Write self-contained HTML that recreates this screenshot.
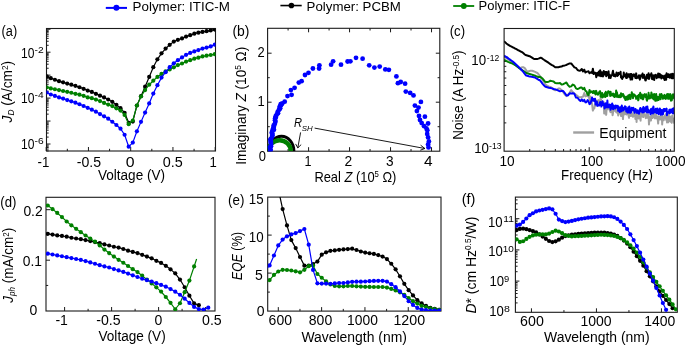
<!DOCTYPE html><html><head><meta charset="utf-8"><style>html,body{margin:0;padding:0;background:#fff;overflow:hidden}svg{display:block;will-change:transform}text{font-family:"Liberation Sans",sans-serif}</style></head><body>
<svg width="685" height="346" viewBox="0 0 685 346">
<rect width="685" height="346" fill="#fff"/>
<defs>
<clipPath id="ca"><rect x="46.5" y="28.5" width="169" height="122.5"/></clipPath>
<clipPath id="cb"><rect x="267.6" y="28.3" width="172.2" height="122.9"/></clipPath>
<clipPath id="cc"><rect x="504.1" y="28.5" width="170.2" height="122.7"/></clipPath>
<clipPath id="cd"><rect x="46" y="197.3" width="169" height="113.7"/></clipPath>
<clipPath id="ce"><rect x="267.7" y="197.1" width="173.3" height="114"/></clipPath>
<clipPath id="cf"><rect x="515.4" y="197.1" width="161.9" height="115.2"/></clipPath>
</defs>
<path d="M105.8,7.9H127" stroke="#0000ff" stroke-width="2"/>
<circle cx="116.4" cy="7.8" r="3.0" fill="#0000ff"/>
<text x="132.6" y="10.6" font-size="13.5" textLength="97.3" lengthAdjust="spacingAndGlyphs" fill="#000">Polymer: ITIC-M</text>
<path d="M280.4,5.55H301.7" stroke="#000000" stroke-width="1.6"/>
<circle cx="291.4" cy="5.45" r="2.8" fill="#000000"/>
<text x="306.6" y="11.1" font-size="13.5" textLength="94.3" lengthAdjust="spacingAndGlyphs" fill="#000">Polymer: PCBM</text>
<path d="M453.2,6H474.2" stroke="#008000" stroke-width="1.8"/>
<circle cx="463.8" cy="6" r="2.9" fill="#008000"/>
<text x="478.5" y="9.6" font-size="13.5" textLength="91.6" lengthAdjust="spacingAndGlyphs" fill="#000">Polymer: ITIC-F</text>
<path d="M46.2,151L46.2,147M88.45,151L88.45,147M130.7,151L130.7,147M172.95,151L172.95,147M215.2,151L215.2,147M67.32,151L67.32,148.8M109.57,151L109.57,148.8M151.82,151L151.82,148.8M194.07,151L194.07,148.8" stroke="#1a1a1a" stroke-width="1.0" fill="none"/>
<path d="M46.5,144L50.5,144M46.5,121.05L50.5,121.05M46.5,98.1L50.5,98.1M46.5,75.15L50.5,75.15M46.5,52.2L50.5,52.2M46.5,29.25L50.5,29.25M46.5,150.91L48.7,150.91M46.5,149.09L48.7,149.09M46.5,147.55L48.7,147.55M46.5,146.22L48.7,146.22M46.5,145.05L48.7,145.05M46.5,137.09L48.7,137.09M46.5,133.05L48.7,133.05M46.5,130.18L48.7,130.18M46.5,127.96L48.7,127.96M46.5,126.14L48.7,126.14M46.5,124.6L48.7,124.6M46.5,123.27L48.7,123.27M46.5,122.1L48.7,122.1M46.5,114.14L48.7,114.14M46.5,110.1L48.7,110.1M46.5,107.23L48.7,107.23M46.5,105.01L48.7,105.01M46.5,103.19L48.7,103.19M46.5,101.65L48.7,101.65M46.5,100.32L48.7,100.32M46.5,99.15L48.7,99.15M46.5,91.19L48.7,91.19M46.5,87.15L48.7,87.15M46.5,84.28L48.7,84.28M46.5,82.06L48.7,82.06M46.5,80.24L48.7,80.24M46.5,78.7L48.7,78.7M46.5,77.37L48.7,77.37M46.5,76.2L48.7,76.2M46.5,68.24L48.7,68.24M46.5,64.2L48.7,64.2M46.5,61.33L48.7,61.33M46.5,59.11L48.7,59.11M46.5,57.29L48.7,57.29M46.5,55.75L48.7,55.75M46.5,54.42L48.7,54.42M46.5,53.25L48.7,53.25M46.5,45.29L48.7,45.29M46.5,41.25L48.7,41.25M46.5,38.38L48.7,38.38M46.5,36.16L48.7,36.16M46.5,34.34L48.7,34.34M46.5,32.8L48.7,32.8M46.5,31.47L48.7,31.47M46.5,30.3L48.7,30.3" stroke="#1a1a1a" stroke-width="1.0" fill="none"/>
<rect x="46.5" y="28.5" width="169" height="122.5" fill="none" stroke="#1a1a1a" stroke-width="1.1"/>
<path d="M46.7,76.4 L50.8,78.14 L54.9,79.76 L59,81.19 L63.1,82.33 L67.2,83.54 L71.3,84.72 L75.4,85.81 L79.5,87.25 L83.6,88.78 L87.7,90.56 L91.8,91.89 L95.9,93.83 L100,95.64 L104.1,97.45 L108.2,99.5 L112.3,101.84 L116.4,104.85 L120.5,108.2 L124.6,112.75 L128.7,122.8 L132.8,121.6 L136.9,105.5 L141,96.2 L145.1,86.66 L149.2,76.9 L153.3,67.2 L157.4,59.3 L161.5,53.3 L165.6,48.6 L169.7,44.8 L173.8,41.6 L177.9,39.79 L182,38.46 L186.1,36.59 L190.2,35.2 L194.3,33.65 L198.4,32.66 L202.5,31.89 L206.6,31.21 L210.7,30.44 L214.8,29.53" fill="none" stroke="#000000" stroke-width="1.2" stroke-linejoin="round" clip-path="url(#ca)"/>
<g fill="#000000" clip-path="url(#ca)"><circle cx="46.7" cy="76.4" r="2.1"/><circle cx="50.8" cy="78.14" r="2.1"/><circle cx="54.9" cy="79.76" r="2.1"/><circle cx="59" cy="81.19" r="2.1"/><circle cx="63.1" cy="82.33" r="2.1"/><circle cx="67.2" cy="83.54" r="2.1"/><circle cx="71.3" cy="84.72" r="2.1"/><circle cx="75.4" cy="85.81" r="2.1"/><circle cx="79.5" cy="87.25" r="2.1"/><circle cx="83.6" cy="88.78" r="2.1"/><circle cx="87.7" cy="90.56" r="2.1"/><circle cx="91.8" cy="91.89" r="2.1"/><circle cx="95.9" cy="93.83" r="2.1"/><circle cx="100" cy="95.64" r="2.1"/><circle cx="104.1" cy="97.45" r="2.1"/><circle cx="108.2" cy="99.5" r="2.1"/><circle cx="112.3" cy="101.84" r="2.1"/><circle cx="116.4" cy="104.85" r="2.1"/><circle cx="120.5" cy="108.2" r="2.1"/><circle cx="124.6" cy="112.75" r="2.1"/><circle cx="128.7" cy="122.8" r="2.1"/><circle cx="132.8" cy="121.6" r="2.1"/><circle cx="136.9" cy="105.5" r="2.1"/><circle cx="141" cy="96.2" r="2.1"/><circle cx="145.1" cy="86.66" r="2.1"/><circle cx="149.2" cy="76.9" r="2.1"/><circle cx="153.3" cy="67.2" r="2.1"/><circle cx="157.4" cy="59.3" r="2.1"/><circle cx="161.5" cy="53.3" r="2.1"/><circle cx="165.6" cy="48.6" r="2.1"/><circle cx="169.7" cy="44.8" r="2.1"/><circle cx="173.8" cy="41.6" r="2.1"/><circle cx="177.9" cy="39.79" r="2.1"/><circle cx="182" cy="38.46" r="2.1"/><circle cx="186.1" cy="36.59" r="2.1"/><circle cx="190.2" cy="35.2" r="2.1"/><circle cx="194.3" cy="33.65" r="2.1"/><circle cx="198.4" cy="32.66" r="2.1"/><circle cx="202.5" cy="31.89" r="2.1"/><circle cx="206.6" cy="31.21" r="2.1"/><circle cx="210.7" cy="30.44" r="2.1"/><circle cx="214.8" cy="29.53" r="2.1"/></g>
<path d="M46.7,87.3 L50.8,88.42 L54.9,89.24 L59,90.06 L63.1,90.98 L67.2,91.86 L71.3,92.75 L75.4,93.83 L79.5,94.71 L83.6,95.86 L87.7,97.39 L91.8,98.17 L95.9,99.6 L100,101.05 L104.1,102.92 L108.2,104.6 L112.3,106.11 L116.4,108.36 L120.5,110.6 L124.6,114.93 L128.7,124.2 L132.8,120.5 L136.9,105.5 L141,96.5 L145.1,90.07 L149.2,84.7 L153.3,80.7 L157.4,76.9 L161.5,73.9 L165.6,71.4 L169.7,69.5 L173.8,67.3 L177.9,65.11 L182,63.49 L186.1,61.59 L190.2,60.2 L194.3,58.65 L198.4,57.66 L202.5,56.45 L206.6,55.71 L210.7,55.02 L214.8,54.13" fill="none" stroke="#008000" stroke-width="1.2" stroke-linejoin="round" clip-path="url(#ca)"/>
<g fill="#008000" clip-path="url(#ca)"><circle cx="46.7" cy="87.3" r="2.1"/><circle cx="50.8" cy="88.42" r="2.1"/><circle cx="54.9" cy="89.24" r="2.1"/><circle cx="59" cy="90.06" r="2.1"/><circle cx="63.1" cy="90.98" r="2.1"/><circle cx="67.2" cy="91.86" r="2.1"/><circle cx="71.3" cy="92.75" r="2.1"/><circle cx="75.4" cy="93.83" r="2.1"/><circle cx="79.5" cy="94.71" r="2.1"/><circle cx="83.6" cy="95.86" r="2.1"/><circle cx="87.7" cy="97.39" r="2.1"/><circle cx="91.8" cy="98.17" r="2.1"/><circle cx="95.9" cy="99.6" r="2.1"/><circle cx="100" cy="101.05" r="2.1"/><circle cx="104.1" cy="102.92" r="2.1"/><circle cx="108.2" cy="104.6" r="2.1"/><circle cx="112.3" cy="106.11" r="2.1"/><circle cx="116.4" cy="108.36" r="2.1"/><circle cx="120.5" cy="110.6" r="2.1"/><circle cx="124.6" cy="114.93" r="2.1"/><circle cx="128.7" cy="124.2" r="2.1"/><circle cx="132.8" cy="120.5" r="2.1"/><circle cx="136.9" cy="105.5" r="2.1"/><circle cx="141" cy="96.5" r="2.1"/><circle cx="145.1" cy="90.07" r="2.1"/><circle cx="149.2" cy="84.7" r="2.1"/><circle cx="153.3" cy="80.7" r="2.1"/><circle cx="157.4" cy="76.9" r="2.1"/><circle cx="161.5" cy="73.9" r="2.1"/><circle cx="165.6" cy="71.4" r="2.1"/><circle cx="169.7" cy="69.5" r="2.1"/><circle cx="173.8" cy="67.3" r="2.1"/><circle cx="177.9" cy="65.11" r="2.1"/><circle cx="182" cy="63.49" r="2.1"/><circle cx="186.1" cy="61.59" r="2.1"/><circle cx="190.2" cy="60.2" r="2.1"/><circle cx="194.3" cy="58.65" r="2.1"/><circle cx="198.4" cy="57.66" r="2.1"/><circle cx="202.5" cy="56.45" r="2.1"/><circle cx="206.6" cy="55.71" r="2.1"/><circle cx="210.7" cy="55.02" r="2.1"/><circle cx="214.8" cy="54.13" r="2.1"/></g>
<path d="M46.7,92.5 L50.8,94.51 L54.9,95.96 L59,97.39 L63.1,98.59 L67.2,100.04 L71.3,101.29 L75.4,102.64 L79.5,104.27 L83.6,105.98 L87.7,107.83 L91.8,109.69 L95.9,111.67 L100,114.05 L104.1,116.28 L108.2,118.7 L112.3,121.76 L116.4,124.98 L120.5,128.7 L124.6,134.75 L128.7,146.7 L132.8,142.6 L136.9,131.3 L141,121.87 L145.1,112.58 L149.2,103.4 L153.3,93.6 L157.4,85.2 L161.5,77.6 L165.6,72.2 L169.7,67.2 L173.8,63.3 L177.9,60.15 L182,57.43 L186.1,54.85 L190.2,52.97 L194.3,51.44 L198.4,50.04 L202.5,48.58 L206.6,47.56 L210.7,46.4 L214.8,44.66" fill="none" stroke="#0000ff" stroke-width="1.2" stroke-linejoin="round" clip-path="url(#ca)"/>
<g fill="#0000ff" clip-path="url(#ca)"><circle cx="46.7" cy="92.5" r="2.1"/><circle cx="50.8" cy="94.51" r="2.1"/><circle cx="54.9" cy="95.96" r="2.1"/><circle cx="59" cy="97.39" r="2.1"/><circle cx="63.1" cy="98.59" r="2.1"/><circle cx="67.2" cy="100.04" r="2.1"/><circle cx="71.3" cy="101.29" r="2.1"/><circle cx="75.4" cy="102.64" r="2.1"/><circle cx="79.5" cy="104.27" r="2.1"/><circle cx="83.6" cy="105.98" r="2.1"/><circle cx="87.7" cy="107.83" r="2.1"/><circle cx="91.8" cy="109.69" r="2.1"/><circle cx="95.9" cy="111.67" r="2.1"/><circle cx="100" cy="114.05" r="2.1"/><circle cx="104.1" cy="116.28" r="2.1"/><circle cx="108.2" cy="118.7" r="2.1"/><circle cx="112.3" cy="121.76" r="2.1"/><circle cx="116.4" cy="124.98" r="2.1"/><circle cx="120.5" cy="128.7" r="2.1"/><circle cx="124.6" cy="134.75" r="2.1"/><circle cx="128.7" cy="146.7" r="2.1"/><circle cx="132.8" cy="142.6" r="2.1"/><circle cx="136.9" cy="131.3" r="2.1"/><circle cx="141" cy="121.87" r="2.1"/><circle cx="145.1" cy="112.58" r="2.1"/><circle cx="149.2" cy="103.4" r="2.1"/><circle cx="153.3" cy="93.6" r="2.1"/><circle cx="157.4" cy="85.2" r="2.1"/><circle cx="161.5" cy="77.6" r="2.1"/><circle cx="165.6" cy="72.2" r="2.1"/><circle cx="169.7" cy="67.2" r="2.1"/><circle cx="173.8" cy="63.3" r="2.1"/><circle cx="177.9" cy="60.15" r="2.1"/><circle cx="182" cy="57.43" r="2.1"/><circle cx="186.1" cy="54.85" r="2.1"/><circle cx="190.2" cy="52.97" r="2.1"/><circle cx="194.3" cy="51.44" r="2.1"/><circle cx="198.4" cy="50.04" r="2.1"/><circle cx="202.5" cy="48.58" r="2.1"/><circle cx="206.6" cy="47.56" r="2.1"/><circle cx="210.7" cy="46.4" r="2.1"/><circle cx="214.8" cy="44.66" r="2.1"/></g>
<text x="1.6" y="35.9" font-size="14" textLength="15.6" lengthAdjust="spacingAndGlyphs" fill="#000">(a)</text>
<text x="37.6" y="166.8" font-size="13.9" textLength="11.8" lengthAdjust="spacingAndGlyphs" fill="#000">-1</text>
<text x="76.8" y="166.8" font-size="13.9" textLength="24.3" lengthAdjust="spacingAndGlyphs" fill="#000">-0.5</text>
<text x="125.7" y="166.8" font-size="13.9" textLength="8.8" lengthAdjust="spacingAndGlyphs" fill="#000">0</text>
<text x="162.7" y="166.8" font-size="13.9" textLength="20" lengthAdjust="spacingAndGlyphs" fill="#000">0.5</text>
<text x="209.6" y="166.8" font-size="13.9" textLength="7.3" lengthAdjust="spacingAndGlyphs" fill="#000">1</text>
<text x="21.1" y="57.8" font-size="13.9" textLength="13.4" lengthAdjust="spacingAndGlyphs" fill="#000">10</text>
<text x="34.5" y="52.8" font-size="9.4" textLength="9.1" lengthAdjust="spacingAndGlyphs" fill="#000">-2</text>
<text x="21.1" y="102.8" font-size="13.9" textLength="13.4" lengthAdjust="spacingAndGlyphs" fill="#000">10</text>
<text x="34.5" y="97.8" font-size="9.4" textLength="9.1" lengthAdjust="spacingAndGlyphs" fill="#000">-4</text>
<text x="21.1" y="148.9" font-size="13.9" textLength="13.4" lengthAdjust="spacingAndGlyphs" fill="#000">10</text>
<text x="34.5" y="143.9" font-size="9.4" textLength="9.1" lengthAdjust="spacingAndGlyphs" fill="#000">-6</text>
<text x="98" y="180" font-size="14.0" textLength="67" lengthAdjust="spacingAndGlyphs" fill="#000">Voltage (V)</text>
<text transform="translate(12.1,122.4) rotate(-90)" font-size="13.9" textLength="61.6" lengthAdjust="spacingAndGlyphs"><tspan font-style="italic">J</tspan><tspan font-style="italic" font-size="8.4" dy="2.2">D</tspan><tspan dy="-2.2"> (A/cm</tspan><tspan font-size="8.4" dy="-4.6">2</tspan><tspan dy="4.6">)</tspan></text>
<path d="M308.58,151.2L308.58,147.2M349.56,151.2L349.56,147.2M390.54,151.2L390.54,147.2M431.52,151.2L431.52,147.2M288.09,151.2L288.09,149M329.07,151.2L329.07,149M370.05,151.2L370.05,149M411.03,151.2L411.03,149M308.58,28.3L308.58,32.3M349.56,28.3L349.56,32.3M390.54,28.3L390.54,32.3M431.52,28.3L431.52,32.3M288.09,28.3L288.09,30.5M329.07,28.3L329.07,30.5M370.05,28.3L370.05,30.5M411.03,28.3L411.03,30.5" stroke="#1a1a1a" stroke-width="1.0" fill="none"/>
<path d="M267.6,102.2L271.6,102.2M267.6,53.2L271.6,53.2M267.6,126.7L269.8,126.7M267.6,77.7L269.8,77.7M439.8,102.2L435.8,102.2M439.8,53.2L435.8,53.2M439.8,126.7L437.6,126.7M439.8,77.7L437.6,77.7" stroke="#1a1a1a" stroke-width="1.0" fill="none"/>
<rect x="267.6" y="28.3" width="172.2" height="122.9" fill="none" stroke="#1a1a1a" stroke-width="1.1"/>
<g clip-path="url(#cb)">
<path d="M269.1,151.2 A12.4,14.9 0 0 1 293.9,151.2" fill="none" stroke="#000000" stroke-width="3.0"/>
<path d="M268.4,151.2 A11.2,11.0 0 0 1 290.8,151.2" fill="none" stroke="#008000" stroke-width="4.4"/>
</g>
<g fill="#0000ff" clip-path="url(#cb)"><circle cx="270.1" cy="151.74" r="2.4"/><circle cx="270.47" cy="150.57" r="2.4"/><circle cx="270.48" cy="149.17" r="2.4"/><circle cx="269.45" cy="147.34" r="2.4"/><circle cx="271.01" cy="146.15" r="2.4"/><circle cx="271.14" cy="144.11" r="2.4"/><circle cx="270.65" cy="142.75" r="2.4"/><circle cx="270.97" cy="141.57" r="2.4"/><circle cx="270.32" cy="139.72" r="2.4"/><circle cx="271.02" cy="138.92" r="2.4"/><circle cx="272.08" cy="136.66" r="2.4"/><circle cx="272.4" cy="135.14" r="2.4"/><circle cx="272.39" cy="133.63" r="2.4"/><circle cx="271.73" cy="132.87" r="2.4"/><circle cx="272.39" cy="130.72" r="2.4"/><circle cx="273.95" cy="129.87" r="2.4"/><circle cx="273.16" cy="128.46" r="2.4"/><circle cx="273.89" cy="126.68" r="2.4"/><circle cx="273.68" cy="125.44" r="2.4"/><circle cx="274.78" cy="123.97" r="2.4"/><circle cx="275.43" cy="121.8" r="2.4"/><circle cx="275" cy="120.17" r="2.4"/><circle cx="275.08" cy="118.57" r="2.4"/><circle cx="275.76" cy="117.6" r="2.4"/><circle cx="275.71" cy="116.18" r="2.4"/><circle cx="276.74" cy="114.43" r="2.4"/><circle cx="278.01" cy="113.23" r="2.4"/><circle cx="277.71" cy="111.86" r="2.4"/><circle cx="278.83" cy="110.06" r="2.4"/><circle cx="279.86" cy="108.77" r="2.4"/><circle cx="280.1" cy="108.34" r="2.4"/><circle cx="279.53" cy="107.04" r="2.4"/><circle cx="280.69" cy="105.58" r="2.4"/><circle cx="280.74" cy="104.25" r="2.4"/><circle cx="281.64" cy="104.36" r="2.4"/><circle cx="282.29" cy="103.36" r="2.4"/><circle cx="280.9" cy="105.1" r="2.4"/><circle cx="284.7" cy="101.7" r="2.4"/><circle cx="287.5" cy="96.1" r="2.4"/><circle cx="291.6" cy="94.8" r="2.4"/><circle cx="290.9" cy="90.1" r="2.4"/><circle cx="294.6" cy="87.8" r="2.4"/><circle cx="298.8" cy="82.6" r="2.4"/><circle cx="301.6" cy="81.2" r="2.4"/><circle cx="305" cy="75" r="2.4"/><circle cx="308.5" cy="72.8" r="2.4"/><circle cx="312.9" cy="68.5" r="2.4"/><circle cx="319.1" cy="68.5" r="2.4"/><circle cx="319.4" cy="65.3" r="2.4"/><circle cx="331.1" cy="64.7" r="2.4"/><circle cx="333.1" cy="61.3" r="2.4"/><circle cx="341" cy="64.7" r="2.4"/><circle cx="347.6" cy="61.5" r="2.4"/><circle cx="350.4" cy="61.3" r="2.4"/><circle cx="356" cy="57.8" r="2.4"/><circle cx="362.6" cy="58.7" r="2.4"/><circle cx="369.2" cy="65.3" r="2.4"/><circle cx="374.4" cy="67.6" r="2.4"/><circle cx="379.7" cy="66.6" r="2.4"/><circle cx="385.3" cy="69.4" r="2.4"/><circle cx="388.9" cy="69.8" r="2.4"/><circle cx="396.4" cy="76.4" r="2.4"/><circle cx="397.9" cy="83.2" r="2.4"/><circle cx="400.7" cy="82" r="2.4"/><circle cx="405.1" cy="83.7" r="2.4"/><circle cx="405.8" cy="91.6" r="2.4"/><circle cx="410.2" cy="92.9" r="2.4"/><circle cx="413.5" cy="95.4" r="2.4"/><circle cx="420.9" cy="101.9" r="2.4"/><circle cx="414.9" cy="105.6" r="2.4"/><circle cx="418.5" cy="107.6" r="2.4"/><circle cx="416.9" cy="111.1" r="2.4"/><circle cx="419" cy="115.9" r="2.4"/><circle cx="424.9" cy="116.7" r="2.4"/><circle cx="421.7" cy="123.1" r="2.4"/><circle cx="428.1" cy="123.5" r="2.4"/><circle cx="424.1" cy="126.2" r="2.4"/><circle cx="427.3" cy="130.2" r="2.4"/><circle cx="428.1" cy="137.4" r="2.4"/><circle cx="428.9" cy="141.4" r="2.4"/><circle cx="428.1" cy="144.5" r="2.4"/><circle cx="428.5" cy="147.4" r="2.4"/><circle cx="427.2" cy="134" r="2.4"/><circle cx="426.5" cy="128.5" r="2.4"/><circle cx="420" cy="120" r="2.4"/></g>
<g stroke="#000" stroke-width="0.9" fill="none">
<path d="M314.6,128.1L424.9,148.5"/>
<path d="M420.6,145.2L424.9,148.5L420.3,150.2"/>
<path d="M300.6,132.4L297.8,147.9"/>
<path d="M295.6,143.9L297.8,147.9L301.2,144.6"/>
</g>
<text x="293.9" y="127.3" font-size="12.8" textLength="8" lengthAdjust="spacingAndGlyphs" fill="#000" font-style="italic">R</text>
<text x="301.8" y="131.4" font-size="7.6" textLength="10.9" lengthAdjust="spacingAndGlyphs" fill="#000" font-style="italic">SH</text>
<text x="232.4" y="35.5" font-size="14" textLength="17" lengthAdjust="spacingAndGlyphs" fill="#000">(b)</text>
<text x="257.6" y="56.6" font-size="13.9" textLength="7.2" lengthAdjust="spacingAndGlyphs" fill="#000">2</text>
<text x="257.6" y="105.6" font-size="13.9" textLength="7.2" lengthAdjust="spacingAndGlyphs" fill="#000">1</text>
<text x="258.7" y="161.2" font-size="13.9" textLength="7.2" lengthAdjust="spacingAndGlyphs" fill="#000">0</text>
<text x="304.5" y="165.9" font-size="13.9" textLength="7" lengthAdjust="spacingAndGlyphs" fill="#000">1</text>
<text x="344.4" y="165.9" font-size="13.9" textLength="7.7" lengthAdjust="spacingAndGlyphs" fill="#000">2</text>
<text x="385.9" y="165.9" font-size="13.9" textLength="7.6" lengthAdjust="spacingAndGlyphs" fill="#000">3</text>
<text x="424.1" y="165.9" font-size="13.9" textLength="8.6" lengthAdjust="spacingAndGlyphs" fill="#000">4</text>
<text x="314.4" y="181.8" font-size="13.9" textLength="82.0" lengthAdjust="spacingAndGlyphs">Real <tspan font-style="italic">Z</tspan> (10<tspan font-size="8.4" dy="-4.8">5</tspan><tspan dy="4.8"> Ω)</tspan></text>
<text transform="translate(245.9,164.8) rotate(-90)" font-size="13.9" textLength="118.0" lengthAdjust="spacingAndGlyphs">Imaginary <tspan font-style="italic">Z</tspan> (10<tspan font-size="8.4" dy="-4.8">5</tspan><tspan dy="4.8"> Ω)</tspan></text>
<path d="M589.2,151.2L589.2,147.2M529.72,151.2L529.72,149M544.7,151.2L544.7,149M555.34,151.2L555.34,149M563.58,151.2L563.58,149M570.32,151.2L570.32,149M576.02,151.2L576.02,149M580.95,151.2L580.95,149M585.31,151.2L585.31,149M614.82,151.2L614.82,149M629.8,151.2L629.8,149M640.44,151.2L640.44,149M648.68,151.2L648.68,149M655.42,151.2L655.42,149M661.12,151.2L661.12,149M666.05,151.2L666.05,149M670.41,151.2L670.41,149" stroke="#1a1a1a" stroke-width="1.0" fill="none"/>
<path d="M504.1,57.2L508.1,57.2M504.1,122.9L506.3,122.9M504.1,106.35L506.3,106.35M504.1,94.61L506.3,94.61M504.1,85.5L506.3,85.5M504.1,78.05L506.3,78.05M504.1,71.76L506.3,71.76M504.1,66.31L506.3,66.31M504.1,61.5L506.3,61.5" stroke="#1a1a1a" stroke-width="1.0" fill="none"/>
<g clip-path="url(#cc)" fill="none" stroke-linejoin="round">
<path d="M504,56.5 L504.8,57.04 L505.6,57.58 L506.4,58.12 L507.2,58.66 L508,59.2 L508.8,59.75 L509.6,60.32 L510.4,60.88 L511.2,61.45 L512,62.01 L512.8,62.58 L513.6,63.19 L514.4,63.97 L515.2,64.75 L516,65.53 L516.8,66.31 L517.6,66.78 L518.4,67.16 L519.2,67.53 L520,67.91 L520.8,67.77 L521.6,67.46 L522.4,67.15 L523.2,67.21 L524,67.63 L524.8,68.15 L525.6,69.35 L526.4,70.55 L527.2,71.75 L528,71.6 L528.8,71.27 L529.6,70.93 L530.4,70.75 L531.2,70.67 L532,70.64 L532.8,70.97 L533.6,71.29 L534.4,71.62 L535.2,71.95 L536,72.35 L536.8,72.75 L537.6,73.15 L538.4,74.06 L539.2,75.05 L540,76.03 L540.8,77.15 L541.6,78.35 L542.4,79.55 L543.2,80.77 L544,82.03 L544.8,83.3 L545.6,84.48 L546.4,85.1 L547.2,85.73 L548,86.26 L548.8,86.5 L550.4,86.91 L552,87.76 L553.6,89.62 L555.2,90.27 L556.8,89.89 L558.4,88.62 L560,88.57 L561.6,90.24 L563.2,92.11 L564.8,94.54 L566.4,96.11 L568,94.57 L569.6,92.85 L571.2,90.05 L572.8,92.07 L574.4,93.66 L576,94.73 L577.55,95.99 L579.03,97.22 L580.44,97.31 L581.78,97.08 L583.05,96.61 L584.26,92.98 L585.42,96.37 L586.52,95.46 L587.57,96.31 L588.56,94.7 L589.51,100.41 L590.42,96.48 L591.28,99.63 L592.09,104.24 L592.87,110.53 L593.62,108.84 L594.32,108.44 L594.99,103.95 L595.63,105.82 L596.24,100.37 L596.82,101.9 L597.38,102.96 L597.9,100.47 L598.4,100.12 L598.88,101.93 L599.33,102.25 L599.77,105.09 L600.18,101.95 L600.58,98.15 L600.98,99.1 L601.38,101.96 L601.78,102.32 L602.18,104.2 L602.58,101.85 L602.98,102.41 L603.38,105.32 L603.78,102.16 L604.18,113.58 L604.58,108.1 L604.98,105.39 L605.38,110.76 L605.78,112.22 L606.18,114.87 L606.58,109.76 L606.98,109.68 L607.38,107.17 L607.78,108.53 L608.18,107.82 L608.58,105.67 L608.98,106.18 L609.38,109.71 L609.78,107.09 L610.18,111.61 L610.58,112.13 L610.98,105.39 L611.38,108.29 L611.78,107.82 L612.18,108.82 L612.58,115.31 L612.98,113.08 L613.38,108.07 L613.78,108.94 L614.18,110.66 L614.58,108.61 L614.98,109.75 L615.38,108.75 L615.78,111.52 L616.18,111.73 L616.58,112.43 L616.98,110.29 L617.38,109.93 L617.78,109.62 L618.18,115.46 L618.58,110.09 L618.98,109.57 L619.38,113.57 L619.78,112.61 L620.18,113.74 L620.58,109.4 L620.98,115.9 L621.38,110.23 L621.78,112.58 L622.18,115.89 L622.58,113.33 L622.98,119.06 L623.38,113.53 L623.78,108.26 L624.18,114.43 L624.58,113.06 L624.98,114.23 L625.38,113.95 L625.78,112.17 L626.18,113.79 L626.58,114.48 L626.98,110.18 L627.38,113.57 L627.78,113.86 L628.18,113.39 L628.58,115.79 L628.98,117.94 L629.38,114.75 L629.78,112.25 L630.18,111.93 L630.58,113.38 L630.98,116.09 L631.38,111.15 L631.78,113.19 L632.18,113.92 L632.58,116.04 L632.98,116.8 L633.38,116.37 L633.78,114.48 L634.18,113.24 L634.58,111.45 L634.98,111.63 L635.38,118.91 L635.78,114.19 L636.18,113.94 L636.58,122.03 L636.98,112.18 L637.38,114.04 L637.78,113.9 L638.18,117.1 L638.58,118.57 L638.98,113.73 L639.38,114.91 L639.78,117.41 L640.18,117.28 L640.58,120.62 L640.98,113.57 L641.38,112.99 L641.78,114.8 L642.18,114.91 L642.58,116.64 L642.98,116.89 L643.38,117.06 L643.78,113.28 L644.18,114.08 L644.58,113.55 L644.98,115.12 L645.38,115.01 L645.78,118.15 L646.18,116.04 L646.58,116.96 L646.98,114.05 L647.38,117.83 L647.78,116.19 L648.18,114.52 L648.58,115.54 L648.98,124.42 L649.38,119.72 L649.78,117.21 L650.18,117.43 L650.58,120.05 L650.98,120.49 L651.38,115.68 L651.78,117.36 L652.18,114.98 L652.58,117.96 L652.98,116.23 L653.38,116.11 L653.78,115.47 L654.18,112.81 L654.58,117.39 L654.98,118.34 L655.38,117.34 L655.78,118.27 L656.18,114.74 L656.58,117.38 L656.98,116.36 L657.38,118.14 L657.78,119.94 L658.18,123.53 L658.58,116.19 L658.98,116.85 L659.38,119.19 L659.78,119.48 L660.18,117.42 L660.58,116.66 L660.98,117.92 L661.38,119.88 L661.78,113.06 L662.18,124.4 L662.58,117 L662.98,118.96 L663.38,119.21 L663.78,120.25 L664.18,117 L664.58,115.65 L664.98,117.87 L665.38,115.49 L665.78,114.19 L666.18,119.91 L666.58,116.12 L666.98,122.48 L667.38,114.94 L667.78,118.02 L668.18,122.33 L668.58,114.16 L668.98,120.85 L669.38,119.25 L669.78,121.1 L670.18,116.47 L670.58,121.73 L670.98,119.56 L671.38,119.62 L671.78,122.77 L672.18,115.47 L672.58,118.35 L672.98,118.61 L673.38,120.41 L673.78,120.12 L674.18,122.95 L674.58,118.31 L674.98,119.78" stroke="#a0a0a0" stroke-width="2.0"/>
<path d="M504,59.8 L504.8,60.21 L505.6,60.62 L506.4,61.03 L507.2,61.44 L508,61.85 L508.8,62.19 L509.6,62.5 L510.4,62.81 L511.2,63.12 L512,63.43 L512.8,63.76 L513.6,64.24 L514.4,64.73 L515.2,65.21 L516,65.7 L516.8,66.18 L517.6,66.84 L518.4,67.55 L519.2,68.2 L520,68.73 L520.8,69.27 L521.6,69.8 L522.4,70.33 L523.2,70.87 L524,71.4 L524.8,71.93 L525.6,72.47 L526.4,73 L527.2,73.33 L528,73.53 L528.8,73.74 L529.6,73.94 L530.4,74.15 L531.2,74.4 L532,74.67 L532.8,74.93 L533.6,75.2 L534.4,75.47 L535.2,75.79 L536,76.12 L536.8,76.44 L537.6,76.77 L538.4,77.1 L539.2,76.95 L540,76.8 L540.8,77.35 L541.6,77.91 L542.4,78.46 L543.2,79.38 L544,80.43 L544.8,81.48 L545.6,82 L546.4,82 L547.2,82 L548,81.91 L548.8,81.55 L550.4,80.72 L552,81.14 L553.6,81.58 L555.2,83.1 L556.8,83.21 L558.4,83.36 L560,82.94 L561.6,84.6 L563.2,84.19 L564.8,83.35 L566.4,82.49 L568,85.11 L569.6,86.69 L571.2,86.39 L572.8,84.51 L574.4,85.36 L576,88.39 L577.55,89.09 L579.03,88.43 L580.44,87.58 L581.78,87.6 L583.05,89.28 L584.26,87.88 L585.42,90.84 L586.52,91.4 L587.57,94.56 L588.56,95.16 L589.51,89.91 L590.42,92.5 L591.28,91.53 L592.09,91.48 L592.87,92.9 L593.62,90.91 L594.32,93.31 L594.99,91.21 L595.63,94.49 L596.24,90.88 L596.82,93.78 L597.38,93.2 L597.9,94.8 L598.4,93.08 L598.88,93.3 L599.33,91.93 L599.77,91.15 L600.18,91.2 L600.58,96.78 L600.98,96.16 L601.38,93.59 L601.78,96.93 L602.18,93.11 L602.58,97.49 L602.98,96.99 L603.38,95.9 L603.78,94.55 L604.18,94.26 L604.58,96.46 L604.98,92.92 L605.38,97.04 L605.78,91.74 L606.18,96.17 L606.58,93.12 L606.98,92.81 L607.38,95.95 L607.78,92.28 L608.18,91.24 L608.58,91.17 L608.98,92.01 L609.38,92.76 L609.78,92.13 L610.18,95.93 L610.58,91.67 L610.98,94.1 L611.38,94.05 L611.78,95.58 L612.18,94.66 L612.58,94.65 L612.98,93.51 L613.38,95.28 L613.78,96.55 L614.18,96.25 L614.58,96.91 L614.98,94.04 L615.38,95.14 L615.78,96.53 L616.18,90.44 L616.58,96.7 L616.98,92.28 L617.38,95.36 L617.78,96.35 L618.18,97.12 L618.58,95.79 L618.98,97.06 L619.38,95.24 L619.78,96.39 L620.18,97.31 L620.58,96.57 L620.98,93.29 L621.38,96.86 L621.78,93.88 L622.18,95.87 L622.58,94.77 L622.98,93.97 L623.38,95.24 L623.78,95.18 L624.18,97.75 L624.58,98.08 L624.98,98.58 L625.38,100.1 L625.78,97.04 L626.18,96.65 L626.58,97.8 L626.98,99.83 L627.38,96.72 L627.78,96.89 L628.18,95.4 L628.58,99.26 L628.98,96.49 L629.38,94.66 L629.78,94.84 L630.18,95.76 L630.58,98.96 L630.98,95.58 L631.38,95.95 L631.78,92.17 L632.18,94.66 L632.58,94.26 L632.98,98.2 L633.38,94.14 L633.78,94.83 L634.18,94.47 L634.58,94.82 L634.98,95.54 L635.38,96.52 L635.78,95.99 L636.18,98.88 L636.58,97.14 L636.98,96.56 L637.38,97.86 L637.78,95.76 L638.18,100.36 L638.58,99.29 L638.98,94.73 L639.38,96.24 L639.78,95.35 L640.18,92.81 L640.58,95.29 L640.98,98.28 L641.38,96.8 L641.78,94.46 L642.18,98.64 L642.58,96.91 L642.98,99.32 L643.38,98.37 L643.78,95.14 L644.18,94.59 L644.58,94.18 L644.98,96.48 L645.38,96.91 L645.78,97.17 L646.18,94.31 L646.58,99.53 L646.98,100.71 L647.38,98.68 L647.78,97.04 L648.18,98.7 L648.58,92.86 L648.98,97.43 L649.38,95.17 L649.78,98.41 L650.18,96.87 L650.58,97.72 L650.98,97.56 L651.38,92.41 L651.78,94.55 L652.18,94.26 L652.58,98.3 L652.98,94.83 L653.38,98.91 L653.78,99.4 L654.18,93.98 L654.58,96.44 L654.98,95.69 L655.38,100.87 L655.78,96.28 L656.18,93.96 L656.58,100.31 L656.98,100.54 L657.38,96.8 L657.78,98.89 L658.18,98.7 L658.58,100.1 L658.98,96.86 L659.38,98.81 L659.78,94.29 L660.18,97.21 L660.58,99.35 L660.98,95.69 L661.38,94.03 L661.78,95.87 L662.18,97.3 L662.58,95.53 L662.98,98.8 L663.38,97.23 L663.78,97.49 L664.18,98.26 L664.58,94.87 L664.98,96.72 L665.38,95.61 L665.78,98.87 L666.18,97.53 L666.58,97.72 L666.98,94.34 L667.38,94.89 L667.78,94.09 L668.18,98.86 L668.58,94.19 L668.98,98.76 L669.38,98.4 L669.78,94.67 L670.18,94.13 L670.58,97.7 L670.98,100.62 L671.38,96.36 L671.78,100.44 L672.18,97.51 L672.58,94.46 L672.98,96.4 L673.38,94.43 L673.78,96.68 L674.18,98.42 L674.58,94.04 L674.98,95.12" stroke="#008000" stroke-width="2.0"/>
<path d="M504,41.1 L504.8,41.87 L505.6,42.64 L506.4,43.42 L507.2,44.08 L508,44.57 L508.8,45.06 L509.6,45.55 L510.4,46.04 L511.2,46.46 L512,46.87 L512.8,47.28 L513.6,47.69 L514.4,48.1 L515.2,48.52 L516,48.95 L516.8,49.39 L517.6,49.83 L518.4,50.26 L519.2,50.7 L520,51.12 L520.8,51.54 L521.6,51.97 L522.4,52.39 L523.2,52.97 L524,53.71 L524.8,54.45 L525.6,55.06 L526.4,55.31 L527.2,55.55 L528,55.8 L528.8,56.05 L529.6,56.29 L530.4,56.54 L531.2,57.03 L532,57.61 L532.8,58.18 L533.6,58.76 L534.4,58.9 L535.2,58.9 L536,58.9 L536.8,58.9 L537.6,58.9 L538.4,58.62 L539.2,58.31 L540,57.99 L540.8,57.68 L541.6,58.04 L542.4,58.62 L543.2,59.21 L544,59.77 L544.8,60.3 L545.6,60.83 L546.4,61.37 L547.2,61.9 L548,62.43 L548.8,62.95 L550.4,64.08 L552,65.12 L553.6,65.94 L555.2,67.19 L556.8,67.15 L558.4,67.22 L560,66.81 L561.6,66.57 L563.2,65.68 L564.8,65.41 L566.4,64.94 L568,64.05 L569.6,63.38 L571.2,63.4 L572.8,65.42 L574.4,67.32 L576,67.94 L577.55,69.99 L579.03,70.64 L580.44,70.48 L581.78,69.06 L583.05,71.44 L584.26,69.69 L585.42,72.58 L586.52,71.64 L587.57,71.51 L588.56,71.33 L589.51,73.26 L590.42,72.6 L591.28,72.19 L592.09,72.97 L592.87,68.75 L593.62,74.02 L594.32,72.48 L594.99,73.39 L595.63,72.74 L596.24,77.14 L596.82,75.8 L597.38,73.04 L597.9,75 L598.4,72.39 L598.88,71.53 L599.33,75.81 L599.77,72.41 L600.18,70.28 L600.58,72.64 L600.98,76.17 L601.38,76.07 L601.78,72.34 L602.18,75.52 L602.58,72.52 L602.98,76.4 L603.38,75.48 L603.78,70.92 L604.18,74.2 L604.58,71.83 L604.98,72.19 L605.38,74.54 L605.78,72.07 L606.18,76.17 L606.58,71.93 L606.98,75.53 L607.38,73.23 L607.78,74.92 L608.18,73.85 L608.58,71.21 L608.98,77.97 L609.38,76.15 L609.78,74.72 L610.18,76.56 L610.58,78 L610.98,76.27 L611.38,75.79 L611.78,75.26 L612.18,74.64 L612.58,72.44 L612.98,70.77 L613.38,74.26 L613.78,76.01 L614.18,75.71 L614.58,74.55 L614.98,76.28 L615.38,76.44 L615.78,75.17 L616.18,75.31 L616.58,72.47 L616.98,74.16 L617.38,76.02 L617.78,74.48 L618.18,75.11 L618.58,72.86 L618.98,73.26 L619.38,74.07 L619.78,73.7 L620.18,74.2 L620.58,71.77 L620.98,77.52 L621.38,76.03 L621.78,77.85 L622.18,78.94 L622.58,77.48 L622.98,76.72 L623.38,77.22 L623.78,72.55 L624.18,76.04 L624.58,74.46 L624.98,75.74 L625.38,74.89 L625.78,76.51 L626.18,78.1 L626.58,73.27 L626.98,77.9 L627.38,75.02 L627.78,74.87 L628.18,74.32 L628.58,74.34 L628.98,76.62 L629.38,77.28 L629.78,75.48 L630.18,73.92 L630.58,79.56 L630.98,75.96 L631.38,73.96 L631.78,75.14 L632.18,79.48 L632.58,75.68 L632.98,74.73 L633.38,74.85 L633.78,74.32 L634.18,76.14 L634.58,76.05 L634.98,74.84 L635.38,77.95 L635.78,76.02 L636.18,73.37 L636.58,78.17 L636.98,76.86 L637.38,76.31 L637.78,77.81 L638.18,77.8 L638.58,76.92 L638.98,75.16 L639.38,76.36 L639.78,79.62 L640.18,78.67 L640.58,77.28 L640.98,75.33 L641.38,76.24 L641.78,75.44 L642.18,75.31 L642.58,73.57 L642.98,77.89 L643.38,76.37 L643.78,75.09 L644.18,74.88 L644.58,77.3 L644.98,78.99 L645.38,80.36 L645.78,80.43 L646.18,77.17 L646.58,76.78 L646.98,74.67 L647.38,78.31 L647.78,75.17 L648.18,78.4 L648.58,73.3 L648.98,79.05 L649.38,76.8 L649.78,75.61 L650.18,74.97 L650.58,74.72 L650.98,75.26 L651.38,73.23 L651.78,78.65 L652.18,79.16 L652.58,77.39 L652.98,75.21 L653.38,75.51 L653.78,78.13 L654.18,80.06 L654.58,75.15 L654.98,75.51 L655.38,76.49 L655.78,74.83 L656.18,75.44 L656.58,78.22 L656.98,77.75 L657.38,75.33 L657.78,76.87 L658.18,73.47 L658.58,75.43 L658.98,77.59 L659.38,74.92 L659.78,73.82 L660.18,75.99 L660.58,77.42 L660.98,75.07 L661.38,78.44 L661.78,77.65 L662.18,77.65 L662.58,75.83 L662.98,75.85 L663.38,77.86 L663.78,78.38 L664.18,78.74 L664.58,80.09 L664.98,75.53 L665.38,76.16 L665.78,75.08 L666.18,79.78 L666.58,73.32 L666.98,74.47 L667.38,75.13 L667.78,77.08 L668.18,74.16 L668.58,74.2 L668.98,75.67 L669.38,77.65 L669.78,76.14 L670.18,74.71 L670.58,74.31 L670.98,77.66 L671.38,77.28 L671.78,78.21 L672.18,73.67 L672.58,75.09 L672.98,78.31 L673.38,78.06 L673.78,74.07 L674.18,74.92 L674.58,73.53 L674.98,75.99" stroke="#000000" stroke-width="2.0"/>
<path d="M504,55.5 L504.8,56.04 L505.6,56.58 L506.4,57.12 L507.2,57.66 L508,58.2 L508.8,58.75 L509.6,59.32 L510.4,59.88 L511.2,60.45 L512,61.01 L512.8,61.58 L513.6,62.19 L514.4,62.96 L515.2,63.73 L516,64.51 L516.8,65.28 L517.6,66.05 L518.4,66.82 L519.2,67.6 L520,68.4 L520.8,69.2 L521.6,70 L522.4,70.8 L523.2,71.74 L524,72.81 L524.8,73.89 L525.6,74.96 L526.4,75.61 L527.2,75.83 L528,76.05 L528.8,76.26 L529.6,76.45 L530.4,76.59 L531.2,76.73 L532,76.87 L532.8,77.01 L533.6,77.14 L534.4,77.28 L535.2,77.73 L536,78.22 L536.8,78.72 L537.6,79.21 L538.4,79.7 L539.2,80 L540,80.3 L540.8,81.38 L541.6,82.45 L542.4,83.53 L543.2,84.47 L544,85.36 L544.8,86.25 L545.6,86.81 L546.4,87.04 L547.2,87.27 L548,87.5 L548.8,87.73 L550.4,88.02 L552,88.39 L553.6,88.97 L555.2,89.32 L556.8,89.88 L558.4,90.62 L560,91.35 L561.6,90.84 L563.2,90.98 L564.8,93.18 L566.4,95.4 L568,95.45 L569.6,93.31 L571.2,93.47 L572.8,93.27 L574.4,93.78 L576,97.55 L577.55,97.73 L579.03,99.76 L580.44,101.06 L581.78,99.3 L583.05,101.19 L584.26,99.82 L585.42,102.37 L586.52,102.15 L587.57,100.09 L588.56,101.47 L589.51,104.15 L590.42,103.38 L591.28,100.89 L592.09,97.4 L592.87,100.65 L593.62,99.15 L594.32,101.22 L594.99,98.73 L595.63,104.56 L596.24,101.72 L596.82,101.47 L597.38,105.87 L597.9,105.03 L598.4,104.87 L598.88,105.59 L599.33,105.47 L599.77,102.57 L600.18,102.08 L600.58,104.29 L600.98,102.26 L601.38,106.56 L601.78,103.84 L602.18,104.95 L602.58,101.26 L602.98,105.06 L603.38,103.11 L603.78,103.69 L604.18,104.3 L604.58,108.42 L604.98,107.1 L605.38,107.33 L605.78,103.23 L606.18,106.08 L606.58,105.8 L606.98,107.53 L607.38,100.6 L607.78,107.13 L608.18,107.25 L608.58,105.94 L608.98,107.33 L609.38,104.44 L609.78,106.74 L610.18,106.3 L610.58,109.66 L610.98,104.91 L611.38,104.64 L611.78,105.43 L612.18,103.45 L612.58,108.76 L612.98,105.06 L613.38,109.18 L613.78,108 L614.18,107.79 L614.58,106.98 L614.98,105.71 L615.38,108.48 L615.78,105.58 L616.18,105.7 L616.58,106.53 L616.98,105.93 L617.38,107.98 L617.78,105.84 L618.18,110.85 L618.58,110.52 L618.98,107.19 L619.38,111.06 L619.78,112.05 L620.18,110.02 L620.58,107.15 L620.98,108.08 L621.38,111.35 L621.78,105.46 L622.18,108.36 L622.58,109.64 L622.98,110.53 L623.38,107.66 L623.78,109.88 L624.18,108.69 L624.58,108.78 L624.98,106.24 L625.38,107.62 L625.78,106.96 L626.18,111.35 L626.58,109.03 L626.98,110.4 L627.38,112.62 L627.78,111.8 L628.18,107.42 L628.58,109.71 L628.98,112.58 L629.38,106.5 L629.78,111.34 L630.18,112.82 L630.58,112.59 L630.98,112.47 L631.38,108.21 L631.78,107.71 L632.18,109.33 L632.58,109.17 L632.98,110.52 L633.38,107.69 L633.78,108.97 L634.18,110.03 L634.58,112.76 L634.98,109.77 L635.38,108.98 L635.78,109.27 L636.18,110.84 L636.58,111.77 L636.98,112.93 L637.38,112.88 L637.78,110.26 L638.18,112.49 L638.58,111.89 L638.98,113.78 L639.38,112.29 L639.78,111.4 L640.18,108.19 L640.58,108.03 L640.98,111.41 L641.38,108.89 L641.78,111.71 L642.18,109.11 L642.58,112.52 L642.98,108.35 L643.38,106.92 L643.78,112.23 L644.18,111.1 L644.58,108.34 L644.98,111.38 L645.38,110.34 L645.78,111.48 L646.18,106.77 L646.58,109.13 L646.98,112.46 L647.38,106.61 L647.78,112.27 L648.18,109.44 L648.58,112.52 L648.98,110.34 L649.38,111.77 L649.78,110.87 L650.18,110.79 L650.58,114.32 L650.98,109.06 L651.38,110.94 L651.78,113.1 L652.18,110.39 L652.58,108.08 L652.98,113.45 L653.38,106.49 L653.78,109.87 L654.18,112.41 L654.58,109.91 L654.98,112.08 L655.38,109.88 L655.78,108.8 L656.18,112.96 L656.58,109.15 L656.98,113 L657.38,108.44 L657.78,110.82 L658.18,111.73 L658.58,114.01 L658.98,112.91 L659.38,109.89 L659.78,108.56 L660.18,109.31 L660.58,114.82 L660.98,114.61 L661.38,113.23 L661.78,109.94 L662.18,113.11 L662.58,114.5 L662.98,114.24 L663.38,109.81 L663.78,108.93 L664.18,111.44 L664.58,108.99 L664.98,110.75 L665.38,109.17 L665.78,110.97 L666.18,110.33 L666.58,108.64 L666.98,115.19 L667.38,112.95 L667.78,113.13 L668.18,112.01 L668.58,112.19 L668.98,112.23 L669.38,109.78 L669.78,113.3 L670.18,109.51 L670.58,110.23 L670.98,112.26 L671.38,112.06 L671.78,111.11 L672.18,109.1 L672.58,112.86 L672.98,113.35 L673.38,108.27 L673.78,113.31 L674.18,113.22 L674.58,112.76 L674.98,113.4" stroke="#0000ff" stroke-width="2.0"/>
</g>
<rect x="504.1" y="28.5" width="170.2" height="122.7" fill="none" stroke="#1a1a1a" stroke-width="1.1"/>
<path d="M573.2,132.5H594.1" stroke="#a0a0a0" stroke-width="2.4"/>
<text x="599.3" y="137.7" font-size="14.0" textLength="67.2" lengthAdjust="spacingAndGlyphs" fill="#000">Equipment</text>
<text x="449.7" y="35.6" font-size="14" textLength="15.4" lengthAdjust="spacingAndGlyphs" fill="#000">(c)</text>
<text x="471.3" y="64.6" font-size="13.9" textLength="14.8" lengthAdjust="spacingAndGlyphs" fill="#000">10</text>
<text x="486.8" y="60.9" font-size="9.4" textLength="12.4" lengthAdjust="spacingAndGlyphs" fill="#000">-12</text>
<text x="474.2" y="153.2" font-size="13.9" textLength="14.8" lengthAdjust="spacingAndGlyphs" fill="#000">10</text>
<text x="489.1" y="148.9" font-size="9.4" textLength="12.6" lengthAdjust="spacingAndGlyphs" fill="#000">-13</text>
<text x="499.5" y="165.5" font-size="13.9" textLength="15.2" lengthAdjust="spacingAndGlyphs" fill="#000">10</text>
<text x="580.4" y="165.5" font-size="13.9" textLength="22.8" lengthAdjust="spacingAndGlyphs" fill="#000">100</text>
<text x="655.1" y="165.5" font-size="13.9" textLength="30.4" lengthAdjust="spacingAndGlyphs" fill="#000">1000</text>
<text x="561.1" y="180.3" font-size="14.0" textLength="91.8" lengthAdjust="spacingAndGlyphs" fill="#000">Frequency (Hz)</text>
<text transform="translate(463.4,139.8) rotate(-90)" font-size="13.9" textLength="89.4" lengthAdjust="spacingAndGlyphs">Noise (A Hz<tspan font-size="8.4" dy="-4.8">-0.5</tspan><tspan dy="4.8">)</tspan></text>
<path d="M64.6,311L64.6,307M111.6,311L111.6,307M158.6,311L158.6,307M205.6,311L205.6,307M88.1,311L88.1,308.8M135.1,311L135.1,308.8M182.1,311L182.1,308.8" stroke="#1a1a1a" stroke-width="1.0" fill="none"/>
<path d="M46,260.2L50,260.2M46,209.7L50,209.7M46,285.45L48.2,285.45M46,234.95L48.2,234.95" stroke="#1a1a1a" stroke-width="1.0" fill="none"/>
<rect x="46" y="197.3" width="169" height="113.7" fill="none" stroke="#1a1a1a" stroke-width="1.1"/>
<path d="M47.8,233.8 L52.52,234.62 L57.24,235.39 L61.96,235.97 L66.68,236.67 L71.4,237.73 L76.12,238.48 L80.84,239.21 L85.56,240.04 L90.28,241.07 L95,242.1 L99.72,243.1 L104.44,244.38 L109.16,245.49 L113.88,246.73 L118.6,247.56 L123.32,248.98 L128.04,250.64 L132.76,251.89 L137.48,253.09 L142.2,254.84 L146.92,256.61 L151.64,258.33 L156.36,260.83 L161.08,262.89 L165.8,265.8 L170.52,269.34 L175.24,273.35 L179.96,279.55 L184.68,287.27 L189.4,295.7 L194.12,303.41 L198.84,305.22" fill="none" stroke="#000000" stroke-width="1.2" stroke-linejoin="round" clip-path="url(#cd)"/>
<g fill="#000000" clip-path="url(#cd)"><circle cx="47.8" cy="233.8" r="2.1"/><circle cx="52.52" cy="234.62" r="2.1"/><circle cx="57.24" cy="235.39" r="2.1"/><circle cx="61.96" cy="235.97" r="2.1"/><circle cx="66.68" cy="236.67" r="2.1"/><circle cx="71.4" cy="237.73" r="2.1"/><circle cx="76.12" cy="238.48" r="2.1"/><circle cx="80.84" cy="239.21" r="2.1"/><circle cx="85.56" cy="240.04" r="2.1"/><circle cx="90.28" cy="241.07" r="2.1"/><circle cx="95" cy="242.1" r="2.1"/><circle cx="99.72" cy="243.1" r="2.1"/><circle cx="104.44" cy="244.38" r="2.1"/><circle cx="109.16" cy="245.49" r="2.1"/><circle cx="113.88" cy="246.73" r="2.1"/><circle cx="118.6" cy="247.56" r="2.1"/><circle cx="123.32" cy="248.98" r="2.1"/><circle cx="128.04" cy="250.64" r="2.1"/><circle cx="132.76" cy="251.89" r="2.1"/><circle cx="137.48" cy="253.09" r="2.1"/><circle cx="142.2" cy="254.84" r="2.1"/><circle cx="146.92" cy="256.61" r="2.1"/><circle cx="151.64" cy="258.33" r="2.1"/><circle cx="156.36" cy="260.83" r="2.1"/><circle cx="161.08" cy="262.89" r="2.1"/><circle cx="165.8" cy="265.8" r="2.1"/><circle cx="170.52" cy="269.34" r="2.1"/><circle cx="175.24" cy="273.35" r="2.1"/><circle cx="179.96" cy="279.55" r="2.1"/><circle cx="184.68" cy="287.27" r="2.1"/><circle cx="189.4" cy="295.7" r="2.1"/><circle cx="194.12" cy="303.41" r="2.1"/><circle cx="198.84" cy="305.22" r="2.1"/></g>
<path d="M47.8,205.5 L52.52,209.13 L57.24,212.96 L61.96,217.09 L66.68,221.49 L71.4,225.36 L76.12,228.8 L80.84,232.21 L85.56,235.52 L90.28,238.62 L95,241.71 L99.72,245.41 L104.44,249.55 L109.16,253.07 L113.88,256.62 L118.6,259.82 L123.32,262.75 L128.04,265.99 L132.76,269.17 L137.48,272.09 L142.2,275.68 L146.92,279.65 L151.64,283.4 L156.36,287.35 L161.08,291.58 L165.8,297 L170.52,302.8 L175.24,309.25 L179.96,303.25 L184.68,292.15 L189.4,280.6 L194.12,266.44 L196.6,259" fill="none" stroke="#008000" stroke-width="1.2" stroke-linejoin="round" clip-path="url(#cd)"/>
<g fill="#008000" clip-path="url(#cd)"><circle cx="47.8" cy="205.5" r="2.1"/><circle cx="52.52" cy="209.13" r="2.1"/><circle cx="57.24" cy="212.96" r="2.1"/><circle cx="61.96" cy="217.09" r="2.1"/><circle cx="66.68" cy="221.49" r="2.1"/><circle cx="71.4" cy="225.36" r="2.1"/><circle cx="76.12" cy="228.8" r="2.1"/><circle cx="80.84" cy="232.21" r="2.1"/><circle cx="85.56" cy="235.52" r="2.1"/><circle cx="90.28" cy="238.62" r="2.1"/><circle cx="95" cy="241.71" r="2.1"/><circle cx="99.72" cy="245.41" r="2.1"/><circle cx="104.44" cy="249.55" r="2.1"/><circle cx="109.16" cy="253.07" r="2.1"/><circle cx="113.88" cy="256.62" r="2.1"/><circle cx="118.6" cy="259.82" r="2.1"/><circle cx="123.32" cy="262.75" r="2.1"/><circle cx="128.04" cy="265.99" r="2.1"/><circle cx="132.76" cy="269.17" r="2.1"/><circle cx="137.48" cy="272.09" r="2.1"/><circle cx="142.2" cy="275.68" r="2.1"/><circle cx="146.92" cy="279.65" r="2.1"/><circle cx="151.64" cy="283.4" r="2.1"/><circle cx="156.36" cy="287.35" r="2.1"/><circle cx="161.08" cy="291.58" r="2.1"/><circle cx="165.8" cy="297" r="2.1"/><circle cx="170.52" cy="302.8" r="2.1"/><circle cx="175.24" cy="309.25" r="2.1"/><circle cx="179.96" cy="303.25" r="2.1"/><circle cx="184.68" cy="292.15" r="2.1"/><circle cx="189.4" cy="280.6" r="2.1"/><circle cx="194.12" cy="266.44" r="2.1"/></g>
<path d="M47.8,253.7 L52.52,254.52 L57.24,255.38 L61.96,256.26 L66.68,257.16 L71.4,258.04 L76.12,259 L80.84,259.96 L85.56,261.05 L90.28,262.39 L95,263.74 L99.72,265.15 L104.44,266.38 L109.16,267.49 L113.88,269.05 L118.6,270.46 L123.32,271.88 L128.04,273.55 L132.76,275.29 L137.48,276.99 L142.2,278.73 L146.92,280.19 L151.64,281.49 L156.36,283.22 L161.08,284.89 L165.8,286.7 L170.52,289.06 L175.24,291.63 L179.96,294.77 L184.68,298.68 L189.4,302.9 L194.12,306.91 L198.84,309.1 L203.56,309.48 L208.28,307.67" fill="none" stroke="#0000ff" stroke-width="1.2" stroke-linejoin="round" clip-path="url(#cd)"/>
<g fill="#0000ff" clip-path="url(#cd)"><circle cx="47.8" cy="253.7" r="2.1"/><circle cx="52.52" cy="254.52" r="2.1"/><circle cx="57.24" cy="255.38" r="2.1"/><circle cx="61.96" cy="256.26" r="2.1"/><circle cx="66.68" cy="257.16" r="2.1"/><circle cx="71.4" cy="258.04" r="2.1"/><circle cx="76.12" cy="259" r="2.1"/><circle cx="80.84" cy="259.96" r="2.1"/><circle cx="85.56" cy="261.05" r="2.1"/><circle cx="90.28" cy="262.39" r="2.1"/><circle cx="95" cy="263.74" r="2.1"/><circle cx="99.72" cy="265.15" r="2.1"/><circle cx="104.44" cy="266.38" r="2.1"/><circle cx="109.16" cy="267.49" r="2.1"/><circle cx="113.88" cy="269.05" r="2.1"/><circle cx="118.6" cy="270.46" r="2.1"/><circle cx="123.32" cy="271.88" r="2.1"/><circle cx="128.04" cy="273.55" r="2.1"/><circle cx="132.76" cy="275.29" r="2.1"/><circle cx="137.48" cy="276.99" r="2.1"/><circle cx="142.2" cy="278.73" r="2.1"/><circle cx="146.92" cy="280.19" r="2.1"/><circle cx="151.64" cy="281.49" r="2.1"/><circle cx="156.36" cy="283.22" r="2.1"/><circle cx="161.08" cy="284.89" r="2.1"/><circle cx="165.8" cy="286.7" r="2.1"/><circle cx="170.52" cy="289.06" r="2.1"/><circle cx="175.24" cy="291.63" r="2.1"/><circle cx="179.96" cy="294.77" r="2.1"/><circle cx="184.68" cy="298.68" r="2.1"/><circle cx="189.4" cy="302.9" r="2.1"/><circle cx="194.12" cy="306.91" r="2.1"/><circle cx="198.84" cy="309.1" r="2.1"/><circle cx="203.56" cy="309.48" r="2.1"/><circle cx="208.28" cy="307.67" r="2.1"/></g>
<text x="0.3" y="206.6" font-size="14" textLength="16.1" lengthAdjust="spacingAndGlyphs" fill="#000">(d)</text>
<text x="23.4" y="215.8" font-size="13.9" textLength="19.3" lengthAdjust="spacingAndGlyphs" fill="#000">0.2</text>
<text x="22.8" y="266.3" font-size="13.9" textLength="19.2" lengthAdjust="spacingAndGlyphs" fill="#000">0.1</text>
<text x="29.6" y="315.2" font-size="13.9" textLength="7.8" lengthAdjust="spacingAndGlyphs" fill="#000">0</text>
<text x="55.4" y="324.8" font-size="13.9" textLength="12.5" lengthAdjust="spacingAndGlyphs" fill="#000">-1</text>
<text x="96.2" y="324.8" font-size="13.9" textLength="24.3" lengthAdjust="spacingAndGlyphs" fill="#000">-0.5</text>
<text x="154.5" y="324.8" font-size="13.9" textLength="7.8" lengthAdjust="spacingAndGlyphs" fill="#000">0</text>
<text x="202" y="324.8" font-size="13.9" textLength="19.7" lengthAdjust="spacingAndGlyphs" fill="#000">0.5</text>
<text x="98.5" y="340.6" font-size="14.0" textLength="67.2" lengthAdjust="spacingAndGlyphs" fill="#000">Voltage (V)</text>
<text transform="translate(13.2,302.8) rotate(-90)" font-size="13.9" textLength="75.0" lengthAdjust="spacingAndGlyphs"><tspan font-style="italic">J</tspan><tspan font-style="italic" font-size="8.4" dy="2.2">ph</tspan><tspan dy="-2.2"> (mA/cm</tspan><tspan font-size="8.4" dy="-4.6">2</tspan><tspan dy="4.6">)</tspan></text>
<path d="M278.3,311.1L278.3,307.1M321.62,311.1L321.62,307.1M364.94,311.1L364.94,307.1M408.26,311.1L408.26,307.1M299.96,311.1L299.96,308.9M343.28,311.1L343.28,308.9M386.6,311.1L386.6,308.9M429.92,311.1L429.92,308.9" stroke="#1a1a1a" stroke-width="1.0" fill="none"/>
<path d="M267.7,273.1L271.7,273.1M267.7,235.1L271.7,235.1M267.7,292.1L269.9,292.1M267.7,254.1L269.9,254.1M267.7,216.1L269.9,216.1" stroke="#1a1a1a" stroke-width="1.0" fill="none"/>
<rect x="267.7" y="197.1" width="173.3" height="114" fill="none" stroke="#1a1a1a" stroke-width="1.1"/>
<path d="M278.5,190 L282.64,209.08 L286.98,225.41 L291.33,240.11 L295.67,248.09 L300.02,257.01 L304.36,265.63 L308.71,265.53 L313.05,264.05 L317.4,261.56 L321.74,254.66 L326.09,252.31 L330.43,250.86 L334.78,250.42 L339.12,249.84 L343.47,249.42 L347.81,249.03 L352.16,248.72 L356.5,250 L360.85,251.51 L365.19,252.55 L369.54,253.26 L373.88,253.96 L378.23,255.12 L382.57,256.53 L386.92,259.09 L391.26,263.74 L395.61,269.32 L399.95,276.29 L404.3,283.84 L408.64,290.17 L412.99,295.44 L417.33,300.21 L421.68,303.44 L426.02,305.9 L430.37,307.8 L434.71,308.86 L439.06,309.75" fill="none" stroke="#000000" stroke-width="1.2" stroke-linejoin="round" clip-path="url(#ce)"/>
<g fill="#000000" clip-path="url(#ce)"><circle cx="282.64" cy="209.08" r="2.1"/><circle cx="286.98" cy="225.41" r="2.1"/><circle cx="291.33" cy="240.11" r="2.1"/><circle cx="295.67" cy="248.09" r="2.1"/><circle cx="300.02" cy="257.01" r="2.1"/><circle cx="304.36" cy="265.63" r="2.1"/><circle cx="308.71" cy="265.53" r="2.1"/><circle cx="313.05" cy="264.05" r="2.1"/><circle cx="317.4" cy="261.56" r="2.1"/><circle cx="321.74" cy="254.66" r="2.1"/><circle cx="326.09" cy="252.31" r="2.1"/><circle cx="330.43" cy="250.86" r="2.1"/><circle cx="334.78" cy="250.42" r="2.1"/><circle cx="339.12" cy="249.84" r="2.1"/><circle cx="343.47" cy="249.42" r="2.1"/><circle cx="347.81" cy="249.03" r="2.1"/><circle cx="352.16" cy="248.72" r="2.1"/><circle cx="356.5" cy="250" r="2.1"/><circle cx="360.85" cy="251.51" r="2.1"/><circle cx="365.19" cy="252.55" r="2.1"/><circle cx="369.54" cy="253.26" r="2.1"/><circle cx="373.88" cy="253.96" r="2.1"/><circle cx="378.23" cy="255.12" r="2.1"/><circle cx="382.57" cy="256.53" r="2.1"/><circle cx="386.92" cy="259.09" r="2.1"/><circle cx="391.26" cy="263.74" r="2.1"/><circle cx="395.61" cy="269.32" r="2.1"/><circle cx="399.95" cy="276.29" r="2.1"/><circle cx="404.3" cy="283.84" r="2.1"/><circle cx="408.64" cy="290.17" r="2.1"/><circle cx="412.99" cy="295.44" r="2.1"/><circle cx="417.33" cy="300.21" r="2.1"/><circle cx="421.68" cy="303.44" r="2.1"/><circle cx="426.02" cy="305.9" r="2.1"/><circle cx="430.37" cy="307.8" r="2.1"/><circle cx="434.71" cy="308.86" r="2.1"/><circle cx="439.06" cy="309.75" r="2.1"/></g>
<path d="M265.3,283 L269.6,280.1 L273.95,274.96 L278.29,271.51 L282.64,269.8 L286.98,270 L291.33,270.5 L295.67,271.29 L300.02,272.29 L304.36,269.82 L308.71,266.2 L313.05,265.61 L317.4,273.99 L321.74,277.73 L326.09,281.39 L330.43,284.41 L334.78,285.99 L339.12,286.3 L343.47,286.3 L347.81,286 L352.16,286 L356.5,286.3 L360.85,286.6 L365.19,286.8 L369.54,286.9 L373.88,287 L378.23,287 L382.57,287 L386.92,287.6 L391.26,288.89 L395.61,290.4 L399.95,292.33 L404.3,294.8 L408.64,298.03 L412.99,301.19 L417.33,303.62 L421.68,305.89 L426.02,307.01 L430.37,308.31 L434.71,309.2 L439.06,309.81" fill="none" stroke="#008000" stroke-width="1.2" stroke-linejoin="round" clip-path="url(#ce)"/>
<g fill="#008000" clip-path="url(#ce)"><circle cx="269.6" cy="280.1" r="2.1"/><circle cx="273.95" cy="274.96" r="2.1"/><circle cx="278.29" cy="271.51" r="2.1"/><circle cx="282.64" cy="269.8" r="2.1"/><circle cx="286.98" cy="270" r="2.1"/><circle cx="291.33" cy="270.5" r="2.1"/><circle cx="295.67" cy="271.29" r="2.1"/><circle cx="300.02" cy="272.29" r="2.1"/><circle cx="304.36" cy="269.82" r="2.1"/><circle cx="308.71" cy="266.2" r="2.1"/><circle cx="313.05" cy="265.61" r="2.1"/><circle cx="317.4" cy="273.99" r="2.1"/><circle cx="321.74" cy="277.73" r="2.1"/><circle cx="326.09" cy="281.39" r="2.1"/><circle cx="330.43" cy="284.41" r="2.1"/><circle cx="334.78" cy="285.99" r="2.1"/><circle cx="339.12" cy="286.3" r="2.1"/><circle cx="343.47" cy="286.3" r="2.1"/><circle cx="347.81" cy="286" r="2.1"/><circle cx="352.16" cy="286" r="2.1"/><circle cx="356.5" cy="286.3" r="2.1"/><circle cx="360.85" cy="286.6" r="2.1"/><circle cx="365.19" cy="286.8" r="2.1"/><circle cx="369.54" cy="286.9" r="2.1"/><circle cx="373.88" cy="287" r="2.1"/><circle cx="378.23" cy="287" r="2.1"/><circle cx="382.57" cy="287" r="2.1"/><circle cx="386.92" cy="287.6" r="2.1"/><circle cx="391.26" cy="288.89" r="2.1"/><circle cx="395.61" cy="290.4" r="2.1"/><circle cx="399.95" cy="292.33" r="2.1"/><circle cx="404.3" cy="294.8" r="2.1"/><circle cx="408.64" cy="298.03" r="2.1"/><circle cx="412.99" cy="301.19" r="2.1"/><circle cx="417.33" cy="303.62" r="2.1"/><circle cx="421.68" cy="305.89" r="2.1"/><circle cx="426.02" cy="307.01" r="2.1"/><circle cx="430.37" cy="308.31" r="2.1"/><circle cx="434.71" cy="309.2" r="2.1"/><circle cx="439.06" cy="309.81" r="2.1"/></g>
<path d="M265.3,270.4 L269.6,265.4 L273.95,255.52 L278.29,245.42 L282.64,239.57 L286.98,236.31 L291.33,234.39 L295.67,233.11 L300.02,231.09 L304.36,229.02 L308.71,244.63 L313.05,269.91 L317.4,283.28 L321.74,283.6 L326.09,283.6 L330.43,283.8 L334.78,283.4 L339.12,283 L343.47,283 L347.81,282.4 L352.16,281.81 L356.5,281.7 L360.85,281.7 L365.19,281.5 L369.54,281.2 L373.88,280.9 L378.23,280.8 L382.57,280.8 L386.92,281.61 L391.26,284.18 L395.61,287.2 L399.95,291.45 L404.3,296.09 L408.64,301.23 L412.99,304.89 L417.33,307.91 L421.68,309.59 L426.02,310.2 L430.37,310.5 L434.71,310.6 L439.06,310.6" fill="none" stroke="#0000ff" stroke-width="1.2" stroke-linejoin="round" clip-path="url(#ce)"/>
<g fill="#0000ff" clip-path="url(#ce)"><circle cx="269.6" cy="265.4" r="2.1"/><circle cx="273.95" cy="255.52" r="2.1"/><circle cx="278.29" cy="245.42" r="2.1"/><circle cx="282.64" cy="239.57" r="2.1"/><circle cx="286.98" cy="236.31" r="2.1"/><circle cx="291.33" cy="234.39" r="2.1"/><circle cx="295.67" cy="233.11" r="2.1"/><circle cx="300.02" cy="231.09" r="2.1"/><circle cx="304.36" cy="229.02" r="2.1"/><circle cx="308.71" cy="244.63" r="2.1"/><circle cx="313.05" cy="269.91" r="2.1"/><circle cx="317.4" cy="283.28" r="2.1"/><circle cx="321.74" cy="283.6" r="2.1"/><circle cx="326.09" cy="283.6" r="2.1"/><circle cx="330.43" cy="283.8" r="2.1"/><circle cx="334.78" cy="283.4" r="2.1"/><circle cx="339.12" cy="283" r="2.1"/><circle cx="343.47" cy="283" r="2.1"/><circle cx="347.81" cy="282.4" r="2.1"/><circle cx="352.16" cy="281.81" r="2.1"/><circle cx="356.5" cy="281.7" r="2.1"/><circle cx="360.85" cy="281.7" r="2.1"/><circle cx="365.19" cy="281.5" r="2.1"/><circle cx="369.54" cy="281.2" r="2.1"/><circle cx="373.88" cy="280.9" r="2.1"/><circle cx="378.23" cy="280.8" r="2.1"/><circle cx="382.57" cy="280.8" r="2.1"/><circle cx="386.92" cy="281.61" r="2.1"/><circle cx="391.26" cy="284.18" r="2.1"/><circle cx="395.61" cy="287.2" r="2.1"/><circle cx="399.95" cy="291.45" r="2.1"/><circle cx="404.3" cy="296.09" r="2.1"/><circle cx="408.64" cy="301.23" r="2.1"/><circle cx="412.99" cy="304.89" r="2.1"/><circle cx="417.33" cy="307.91" r="2.1"/><circle cx="421.68" cy="309.59" r="2.1"/><circle cx="426.02" cy="310.2" r="2.1"/><circle cx="430.37" cy="310.5" r="2.1"/><circle cx="434.71" cy="310.6" r="2.1"/><circle cx="439.06" cy="310.6" r="2.1"/></g>
<text x="228.1" y="205" font-size="14" textLength="16.3" lengthAdjust="spacingAndGlyphs" fill="#000">(e)</text>
<text x="248.8" y="204.3" font-size="13.9" textLength="14.8" lengthAdjust="spacingAndGlyphs" fill="#000">15</text>
<text x="248.8" y="241.9" font-size="13.9" textLength="14.8" lengthAdjust="spacingAndGlyphs" fill="#000">10</text>
<text x="255.1" y="279.6" font-size="13.9" textLength="7.8" lengthAdjust="spacingAndGlyphs" fill="#000">5</text>
<text x="256.8" y="315.7" font-size="13.9" textLength="7.8" lengthAdjust="spacingAndGlyphs" fill="#000">0</text>
<text x="268.6" y="325" font-size="13.9" textLength="23.4" lengthAdjust="spacingAndGlyphs" fill="#000">600</text>
<text x="308.8" y="325" font-size="13.9" textLength="23.4" lengthAdjust="spacingAndGlyphs" fill="#000">800</text>
<text x="347.1" y="325" font-size="13.9" textLength="30.8" lengthAdjust="spacingAndGlyphs" fill="#000">1000</text>
<text x="393.4" y="325" font-size="13.9" textLength="31.7" lengthAdjust="spacingAndGlyphs" fill="#000">1200</text>
<text x="301.4" y="342.2" font-size="14.0" textLength="105.6" lengthAdjust="spacingAndGlyphs" fill="#000">Wavelength (nm)</text>
<text transform="translate(241.6,280.0) rotate(-90)" font-size="13.9" textLength="48.2" lengthAdjust="spacingAndGlyphs"><tspan font-style="italic">EQE</tspan> (%)</text>
<path d="M531.45,312.3L531.45,308.3M596.45,312.3L596.45,308.3M661.45,312.3L661.45,308.3M563.95,312.3L563.95,310.1M628.95,312.3L628.95,310.1" stroke="#1a1a1a" stroke-width="1.0" fill="none"/>
<path d="M515.4,281.1L519.4,281.1M515.4,249.9L519.4,249.9M515.4,218.7L519.4,218.7M515.4,302.91L517.6,302.91M515.4,297.41L517.6,297.41M515.4,293.52L517.6,293.52M515.4,290.49L517.6,290.49M515.4,288.02L517.6,288.02M515.4,285.93L517.6,285.93M515.4,284.12L517.6,284.12M515.4,282.53L517.6,282.53M515.4,271.71L517.6,271.71M515.4,266.21L517.6,266.21M515.4,262.32L517.6,262.32M515.4,259.29L517.6,259.29M515.4,256.82L517.6,256.82M515.4,254.73L517.6,254.73M515.4,252.92L517.6,252.92M515.4,251.33L517.6,251.33M515.4,240.51L517.6,240.51M515.4,235.01L517.6,235.01M515.4,231.12L517.6,231.12M515.4,228.09L517.6,228.09M515.4,225.62L517.6,225.62M515.4,223.53L517.6,223.53M515.4,221.72L517.6,221.72M515.4,220.13L517.6,220.13M515.4,209.31L517.6,209.31M515.4,203.81L517.6,203.81M515.4,199.92L517.6,199.92" stroke="#1a1a1a" stroke-width="1.0" fill="none"/>
<rect x="515.4" y="197.1" width="161.9" height="115.2" fill="none" stroke="#1a1a1a" stroke-width="1.1"/>
<path d="M516.6,230.1 L519.85,228.9 L523.1,228.62 L526.35,229.14 L529.6,230.1 L532.85,231.12 L536.1,232.38 L539.35,234.47 L542.6,236.6 L545.85,238.83 L549.1,241 L552.35,242.09 L555.6,241.29 L558.85,239.67 L562.1,237.7 L565.35,236.03 L568.6,235.27 L571.85,234.67 L575.1,234.27 L578.35,233.91 L581.6,233.63 L584.85,233.35 L588.1,233.07 L591.35,232.87 L594.6,232.71 L597.85,232.59 L601.1,232.53 L604.35,232.67 L607.6,233 L610.85,233.66 L614.1,234.66 L617.35,235.94 L620.6,238.13 L623.85,240.6 L627.1,243.6 L630.35,247.15 L633.6,251.65 L636.85,256.15 L640.1,260.82 L643.35,265.72 L646.6,271.15 L649.85,276.34 L653.1,281.3 L656.35,286.38 L659.6,291.28 L662.85,295.83 L666.1,300.02 L669.35,304.11 L672.6,308.23" fill="none" stroke="#000000" stroke-width="1.2" stroke-linejoin="round" clip-path="url(#cf)"/>
<g fill="#000000" clip-path="url(#cf)"><circle cx="516.6" cy="230.1" r="2.1"/><circle cx="519.85" cy="228.9" r="2.1"/><circle cx="523.1" cy="228.62" r="2.1"/><circle cx="526.35" cy="229.14" r="2.1"/><circle cx="529.6" cy="230.1" r="2.1"/><circle cx="532.85" cy="231.12" r="2.1"/><circle cx="536.1" cy="232.38" r="2.1"/><circle cx="539.35" cy="234.47" r="2.1"/><circle cx="542.6" cy="236.6" r="2.1"/><circle cx="545.85" cy="238.83" r="2.1"/><circle cx="549.1" cy="241" r="2.1"/><circle cx="552.35" cy="242.09" r="2.1"/><circle cx="555.6" cy="241.29" r="2.1"/><circle cx="558.85" cy="239.67" r="2.1"/><circle cx="562.1" cy="237.7" r="2.1"/><circle cx="565.35" cy="236.03" r="2.1"/><circle cx="568.6" cy="235.27" r="2.1"/><circle cx="571.85" cy="234.67" r="2.1"/><circle cx="575.1" cy="234.27" r="2.1"/><circle cx="578.35" cy="233.91" r="2.1"/><circle cx="581.6" cy="233.63" r="2.1"/><circle cx="584.85" cy="233.35" r="2.1"/><circle cx="588.1" cy="233.07" r="2.1"/><circle cx="591.35" cy="232.87" r="2.1"/><circle cx="594.6" cy="232.71" r="2.1"/><circle cx="597.85" cy="232.59" r="2.1"/><circle cx="601.1" cy="232.53" r="2.1"/><circle cx="604.35" cy="232.67" r="2.1"/><circle cx="607.6" cy="233" r="2.1"/><circle cx="610.85" cy="233.66" r="2.1"/><circle cx="614.1" cy="234.66" r="2.1"/><circle cx="617.35" cy="235.94" r="2.1"/><circle cx="620.6" cy="238.13" r="2.1"/><circle cx="623.85" cy="240.6" r="2.1"/><circle cx="627.1" cy="243.6" r="2.1"/><circle cx="630.35" cy="247.15" r="2.1"/><circle cx="633.6" cy="251.65" r="2.1"/><circle cx="636.85" cy="256.15" r="2.1"/><circle cx="640.1" cy="260.82" r="2.1"/><circle cx="643.35" cy="265.72" r="2.1"/><circle cx="646.6" cy="271.15" r="2.1"/><circle cx="649.85" cy="276.34" r="2.1"/><circle cx="653.1" cy="281.3" r="2.1"/><circle cx="656.35" cy="286.38" r="2.1"/><circle cx="659.6" cy="291.28" r="2.1"/><circle cx="662.85" cy="295.83" r="2.1"/><circle cx="666.1" cy="300.02" r="2.1"/><circle cx="669.35" cy="304.11" r="2.1"/><circle cx="672.6" cy="308.23" r="2.1"/></g>
<path d="M516.6,239.3 L519.85,241.89 L523.1,241.26 L526.35,238.97 L529.6,236.8 L532.85,235.39 L536.1,234.76 L539.35,234.43 L542.6,234.4 L545.85,234.4 L549.1,233.58 L552.35,231.98 L555.6,230.71 L558.85,231.52 L562.1,233.14 L565.35,235.13 L568.6,235.88 L571.85,236.39 L575.1,236.22 L578.35,236.05 L581.6,235.88 L584.85,235.71 L588.1,235.54 L591.35,235.33 L594.6,235.11 L597.85,234.88 L601.1,234.74 L604.35,234.96 L607.6,235.12 L610.85,235.41 L614.1,235.92 L617.35,236.9 L620.6,238.13 L623.85,239.95 L627.1,242.44 L630.35,245.25 L633.6,248.62 L636.85,252.5 L640.1,257 L643.35,262.34 L646.6,267.65 L649.85,272.4 L653.1,277.11 L656.35,281.86 L659.6,286.37 L662.85,290.87 L666.1,295.42 L669.35,299.7 L672.6,304.4 L675.85,309.34" fill="none" stroke="#008000" stroke-width="1.2" stroke-linejoin="round" clip-path="url(#cf)"/>
<g fill="#008000" clip-path="url(#cf)"><circle cx="516.6" cy="239.3" r="2.1"/><circle cx="519.85" cy="241.89" r="2.1"/><circle cx="523.1" cy="241.26" r="2.1"/><circle cx="526.35" cy="238.97" r="2.1"/><circle cx="529.6" cy="236.8" r="2.1"/><circle cx="532.85" cy="235.39" r="2.1"/><circle cx="536.1" cy="234.76" r="2.1"/><circle cx="539.35" cy="234.43" r="2.1"/><circle cx="542.6" cy="234.4" r="2.1"/><circle cx="545.85" cy="234.4" r="2.1"/><circle cx="549.1" cy="233.58" r="2.1"/><circle cx="552.35" cy="231.98" r="2.1"/><circle cx="555.6" cy="230.71" r="2.1"/><circle cx="558.85" cy="231.52" r="2.1"/><circle cx="562.1" cy="233.14" r="2.1"/><circle cx="565.35" cy="235.13" r="2.1"/><circle cx="568.6" cy="235.88" r="2.1"/><circle cx="571.85" cy="236.39" r="2.1"/><circle cx="575.1" cy="236.22" r="2.1"/><circle cx="578.35" cy="236.05" r="2.1"/><circle cx="581.6" cy="235.88" r="2.1"/><circle cx="584.85" cy="235.71" r="2.1"/><circle cx="588.1" cy="235.54" r="2.1"/><circle cx="591.35" cy="235.33" r="2.1"/><circle cx="594.6" cy="235.11" r="2.1"/><circle cx="597.85" cy="234.88" r="2.1"/><circle cx="601.1" cy="234.74" r="2.1"/><circle cx="604.35" cy="234.96" r="2.1"/><circle cx="607.6" cy="235.12" r="2.1"/><circle cx="610.85" cy="235.41" r="2.1"/><circle cx="614.1" cy="235.92" r="2.1"/><circle cx="617.35" cy="236.9" r="2.1"/><circle cx="620.6" cy="238.13" r="2.1"/><circle cx="623.85" cy="239.95" r="2.1"/><circle cx="627.1" cy="242.44" r="2.1"/><circle cx="630.35" cy="245.25" r="2.1"/><circle cx="633.6" cy="248.62" r="2.1"/><circle cx="636.85" cy="252.5" r="2.1"/><circle cx="640.1" cy="257" r="2.1"/><circle cx="643.35" cy="262.34" r="2.1"/><circle cx="646.6" cy="267.65" r="2.1"/><circle cx="649.85" cy="272.4" r="2.1"/><circle cx="653.1" cy="277.11" r="2.1"/><circle cx="656.35" cy="281.86" r="2.1"/><circle cx="659.6" cy="286.37" r="2.1"/><circle cx="662.85" cy="290.87" r="2.1"/><circle cx="666.1" cy="295.42" r="2.1"/><circle cx="669.35" cy="299.7" r="2.1"/><circle cx="672.6" cy="304.4" r="2.1"/><circle cx="675.85" cy="309.34" r="2.1"/></g>
<path d="M516.6,225.7 L519.85,224.56 L523.1,221.94 L526.35,218.48 L529.6,215.2 L532.85,213.27 L536.1,211.47 L539.35,210.5 L542.6,209.86 L545.85,209.06 L549.1,208.45 L552.35,209.29 L555.6,213.75 L558.85,219.53 L562.1,221.12 L565.35,222.07 L568.6,221.62 L571.85,220.93 L575.1,220.08 L578.35,219.32 L581.6,218.76 L584.85,218.23 L588.1,217.72 L591.35,217.39 L594.6,217.11 L597.85,216.77 L601.1,216.47 L604.35,216.33 L607.6,216.15 L610.85,216.38 L614.1,217.26 L617.35,218.92 L620.6,221.54 L623.85,224.93 L627.1,229.02 L630.35,234.3 L633.6,240.04 L636.85,246.12 L640.1,252.65 L643.35,259.6 L646.6,266.66 L649.85,273.66 L653.1,280.69 L656.35,288.01 L659.6,295.49 L662.85,302.99 L666.1,309.78" fill="none" stroke="#0000ff" stroke-width="1.2" stroke-linejoin="round" clip-path="url(#cf)"/>
<g fill="#0000ff" clip-path="url(#cf)"><circle cx="516.6" cy="225.7" r="2.1"/><circle cx="519.85" cy="224.56" r="2.1"/><circle cx="523.1" cy="221.94" r="2.1"/><circle cx="526.35" cy="218.48" r="2.1"/><circle cx="529.6" cy="215.2" r="2.1"/><circle cx="532.85" cy="213.27" r="2.1"/><circle cx="536.1" cy="211.47" r="2.1"/><circle cx="539.35" cy="210.5" r="2.1"/><circle cx="542.6" cy="209.86" r="2.1"/><circle cx="545.85" cy="209.06" r="2.1"/><circle cx="549.1" cy="208.45" r="2.1"/><circle cx="552.35" cy="209.29" r="2.1"/><circle cx="555.6" cy="213.75" r="2.1"/><circle cx="558.85" cy="219.53" r="2.1"/><circle cx="562.1" cy="221.12" r="2.1"/><circle cx="565.35" cy="222.07" r="2.1"/><circle cx="568.6" cy="221.62" r="2.1"/><circle cx="571.85" cy="220.93" r="2.1"/><circle cx="575.1" cy="220.08" r="2.1"/><circle cx="578.35" cy="219.32" r="2.1"/><circle cx="581.6" cy="218.76" r="2.1"/><circle cx="584.85" cy="218.23" r="2.1"/><circle cx="588.1" cy="217.72" r="2.1"/><circle cx="591.35" cy="217.39" r="2.1"/><circle cx="594.6" cy="217.11" r="2.1"/><circle cx="597.85" cy="216.77" r="2.1"/><circle cx="601.1" cy="216.47" r="2.1"/><circle cx="604.35" cy="216.33" r="2.1"/><circle cx="607.6" cy="216.15" r="2.1"/><circle cx="610.85" cy="216.38" r="2.1"/><circle cx="614.1" cy="217.26" r="2.1"/><circle cx="617.35" cy="218.92" r="2.1"/><circle cx="620.6" cy="221.54" r="2.1"/><circle cx="623.85" cy="224.93" r="2.1"/><circle cx="627.1" cy="229.02" r="2.1"/><circle cx="630.35" cy="234.3" r="2.1"/><circle cx="633.6" cy="240.04" r="2.1"/><circle cx="636.85" cy="246.12" r="2.1"/><circle cx="640.1" cy="252.65" r="2.1"/><circle cx="643.35" cy="259.6" r="2.1"/><circle cx="646.6" cy="266.66" r="2.1"/><circle cx="649.85" cy="273.66" r="2.1"/><circle cx="653.1" cy="280.69" r="2.1"/><circle cx="656.35" cy="288.01" r="2.1"/><circle cx="659.6" cy="295.49" r="2.1"/><circle cx="662.85" cy="302.99" r="2.1"/><circle cx="666.1" cy="309.78" r="2.1"/></g>
<text x="461.7" y="204" font-size="14" textLength="13.8" lengthAdjust="spacingAndGlyphs" fill="#000">(f)</text>
<text x="488" y="226.5" font-size="13.9" textLength="14.6" lengthAdjust="spacingAndGlyphs" fill="#000">10</text>
<text x="503.3" y="222.4" font-size="9.4" textLength="10.7" lengthAdjust="spacingAndGlyphs" fill="#000">11</text>
<text x="488.2" y="256.2" font-size="13.9" textLength="14.6" lengthAdjust="spacingAndGlyphs" fill="#000">10</text>
<text x="502.8" y="251.6" font-size="9.4" textLength="11.1" lengthAdjust="spacingAndGlyphs" fill="#000">10</text>
<text x="489.4" y="286.3" font-size="13.9" textLength="14.6" lengthAdjust="spacingAndGlyphs" fill="#000">10</text>
<text x="504" y="282.3" font-size="9.4" textLength="5.2" lengthAdjust="spacingAndGlyphs" fill="#000">9</text>
<text x="489.2" y="315.9" font-size="13.9" textLength="14.6" lengthAdjust="spacingAndGlyphs" fill="#000">10</text>
<text x="504" y="311.5" font-size="9.4" textLength="5.9" lengthAdjust="spacingAndGlyphs" fill="#000">8</text>
<text x="520.1" y="325.7" font-size="13.9" textLength="23.7" lengthAdjust="spacingAndGlyphs" fill="#000">600</text>
<text x="580.4" y="325.7" font-size="13.9" textLength="31.2" lengthAdjust="spacingAndGlyphs" fill="#000">1000</text>
<text x="644.3" y="325.7" font-size="13.9" textLength="31.1" lengthAdjust="spacingAndGlyphs" fill="#000">1400</text>
<text x="544" y="342.3" font-size="14.0" textLength="105.6" lengthAdjust="spacingAndGlyphs" fill="#000">Wavelength (nm)</text>
<text transform="translate(475.6,313.5) rotate(-90)" font-size="13.9" textLength="96.8" lengthAdjust="spacingAndGlyphs"><tspan font-style="italic">D</tspan>* (cm Hz<tspan font-size="8.4" dy="-4.8">0.5</tspan><tspan dy="4.8">/W)</tspan></text>
</svg></body></html>
